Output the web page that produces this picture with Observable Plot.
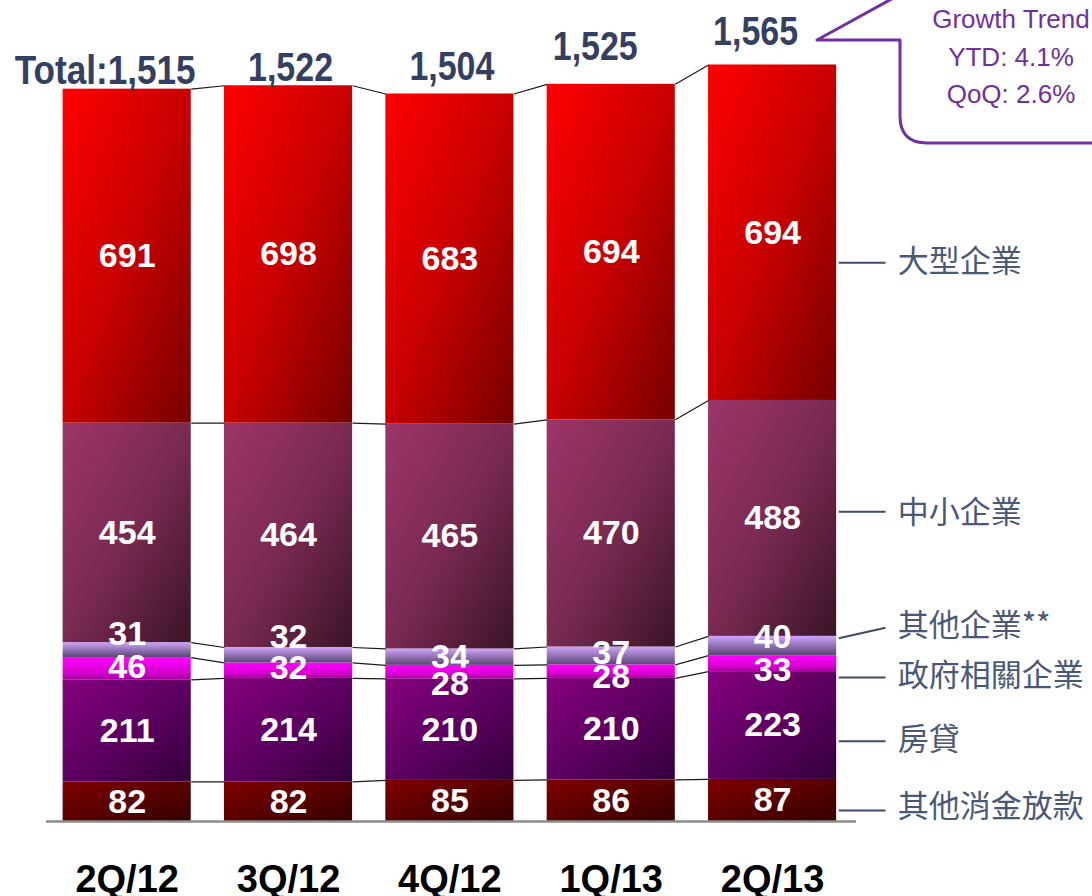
<!DOCTYPE html>
<html><head><meta charset="utf-8">
<script src="https://cdn.jsdelivr.net/npm/d3@7"></script>
<script src="https://cdn.jsdelivr.net/npm/@observablehq/plot@0.6"></script>
<style>html,body{margin:0;padding:0;background:#fff;} svg{display:block;}</style>
</head><body><div id="chart"></div>
<script>
// ---------- data ----------
const quarters = ["2Q/12", "3Q/12", "4Q/12", "1Q/13", "2Q/13"];
const series = ["其他消金放款", "房貸", "政府相關企業", "其他企業**", "中小企業", "大型企業"]; // bottom → top
const otherConsumer = [82, 82, 85, 86, 87];
const mortgage = [211, 214, 210, 210, 223];
const govLinked = [46, 32, 28, 28, 33];
const otherCorp = [31, 32, 34, 37, 40];
const sme = [454, 464, 465, 470, 488];
const largeCorp = [691, 698, 683, 694, 694];
const totals = [1515, 1522, 1504, 1525, 1565];
const totalPrefix = "Total:";
const growthText = ["Growth Trend", "YTD: 4.1%", "QoQ: 2.6%"];
const seriesValues = [otherConsumer, mortgage, govLinked, otherCorp, sme, largeCorp];

// ---------- styles / layout ----------
const hw = 0.397; // half bar width (x units)
const gradients = [
  {dir: "diag", stops: [[0, "#800000"], [1, "#340000"]]},
  {dir: "diag", stops: [[0, "#87007f"], [0.5, "#5e0062"], [1, "#34003a"]]},
  {dir: "vert", stops: [[0, "#ff00ff"], [0.7, "#d600d0"], [1, "#a3009c"]]},
  {dir: "vert", stops: [[0, "#cfa4fb"], [1, "#5a4574"]]},
  {dir: "diag", stops: [[0, "#9d3568"], [0.5, "#7a2a52"], [1, "#3a1427"]]},
  {dir: "diag", stops: [[0, "#ff0000"], [0.5, "#c80000"], [1, "#760000"]]}
];
const labelDy = [[0,0,0,0,0],[0,0,0,0,0],[-2,-3,12,5,6],[-16,-18,0,-3,-9],[0,0,0,0,0],[0,0,0,0,0]];
const totalDx = [-22, 2, 2, -16, -17];
const totalDy = [-5, -5, -14, -24, -20];
const totalWidth = {short: 85, long: 181};
const legendLayout = [
  {y1: 23, y2: 23, ty: 30},
  {y1: 166, y2: 166, ty: 168},
  {y1: 298, y2: 298, ty: 300},
  {y1: 379, y2: 401, ty: 404},
  {y1: 641, y2: 641, ty: 639},
  {y1: 1156, y2: 1156, ty: 1157}
];
const ink = "#3d4b6e";
const totalColor = "#344062";
const purple = "#7030a0";

// ---------- derived tables ----------
const rows = [];
quarters.forEach((q, i) => {
  let c = 0;
  seriesValues.forEach((vals, s) => {
    rows.push({i, q, s, name: series[s], value: vals[i], y1: c, y2: c + vals[i]});
    c += vals[i];
  });
});
const links = [];
for (let i = 0; i < quarters.length - 1; i++) {
  for (let s = 0; s < series.length; s++) {
    const a = rows.find(r => r.i === i && r.s === s);
    const b = rows.find(r => r.i === i + 1 && r.s === s);
    links.push({x1: i + hw, x2: i + 1 - hw, y1: a.y2, y2: b.y2});
  }
}
const legendRows = series.map((name, s) => ({name, ...legendLayout[s]}));

const marks = [];
series.forEach((name, s) => {
  marks.push(Plot.rect(rows.filter(r => r.s === s), {
    x1: d => d.i - hw, x2: d => d.i + hw, y1: "y1", y2: "y2", fill: `url(#grad${s})`
  }));
});
marks.push(Plot.link(links, {x1: "x1", x2: "x2", y1: "y1", y2: "y2", stroke: "#1a1a1a", strokeWidth: 1.2}));
marks.push(Plot.ruleY([0], {stroke: "#8c8c8c", strokeWidth: 2.5}));
rows.forEach(r => {
  marks.push(Plot.text([r], {
    x: "i", y: d => (d.y1 + d.y2) / 2, text: d => String(d.value),
    fill: "white", fontSize: 34, fontWeight: "bold", fontFamily: "Liberation Sans, Arial, sans-serif",
    lineAnchor: "middle", dy: labelDy[r.s][r.i]
  }));
});
totals.forEach((t, i) => {
  marks.push(Plot.text([{i, t}], {
    x: "i", y: "t", text: d => (d.i === 0 ? totalPrefix : "") + d3.format(",")(d.t),
    fill: totalColor, fontSize: 41, fontWeight: "bold",
    fontFamily: "Liberation Sans, Arial, sans-serif",
    lineAnchor: "bottom", dx: totalDx[i], dy: totalDy[i]
  }));
});
marks.push(Plot.link(legendRows, {x1: () => 4.41, x2: () => 4.70, y1: "y1", y2: "y2", stroke: ink, strokeWidth: 2}));
marks.push(Plot.text(legendRows, {
  x: () => 4.775, y: "ty", text: "name", textAnchor: "start", lineAnchor: "middle",
  fontSize: 31, fill: "#4a5878", fontFamily: "Noto Sans CJK TC, sans-serif"
}));
marks.push(Plot.axisX({
  ticks: quarters.map((_, i) => i), tickFormat: i => quarters[i], tickSize: 0, tickPadding: 44,
  fontSize: 38, fontWeight: "bold", fontFamily: "Liberation Sans, Arial, sans-serif", label: null
}));

const chart = Plot.plot({
  width: 1092, height: 896,
  marginTop: 0, marginBottom: 75, marginLeft: 46, marginRight: 236,
  x: {type: "linear", domain: [-0.5, 4.52]},
  y: {domain: [0, 1698.4], axis: null},
  style: {background: "white", color: "black", fontFamily: "Liberation Sans, Arial, sans-serif", overflow: "visible"},
  marks
});

const svg = d3.select(chart);

// condensed look for the totals (Arial Narrow-like)
svg.selectAll("text").filter(function () {
  return /^(Total:)?\d,\d{3}$/.test(this.textContent.trim());
}).each(function () {
  const w = this.textContent.trim().length > 5 ? totalWidth.long : totalWidth.short;
  this.setAttribute("textLength", w);
  this.setAttribute("lengthAdjust", "spacingAndGlyphs");
});

// gradients
const defs = svg.insert("defs", ":first-child");
gradients.forEach((g, s) => {
  const lg = defs.append("linearGradient").attr("id", `grad${s}`)
    .attr("x1", 0).attr("y1", 0).attr("x2", g.dir === "diag" ? 1 : 0).attr("y2", 1);
  g.stops.forEach(([o, c]) => lg.append("stop").attr("offset", o).attr("stop-color", c));
});

// growth callout
const co = svg.append("g");
co.append("path")
  .attr("d", "M897,-4 L817,40 L900,40 L900,116 Q900,143 927,143 L1096,143")
  .attr("fill", "none").attr("stroke", purple).attr("stroke-width", 3).attr("stroke-linejoin", "round");
const baselines = [28, 66, 103];
growthText.forEach((t, k) => {
  co.append("text").attr("x", 1011).attr("y", baselines[k]).attr("text-anchor", "middle")
    .attr("fill", purple).attr("font-size", 26).attr("font-family", "Liberation Sans, Arial, sans-serif")
    .text(t);
});

document.getElementById("chart").appendChild(chart);
</script>
</body></html>
